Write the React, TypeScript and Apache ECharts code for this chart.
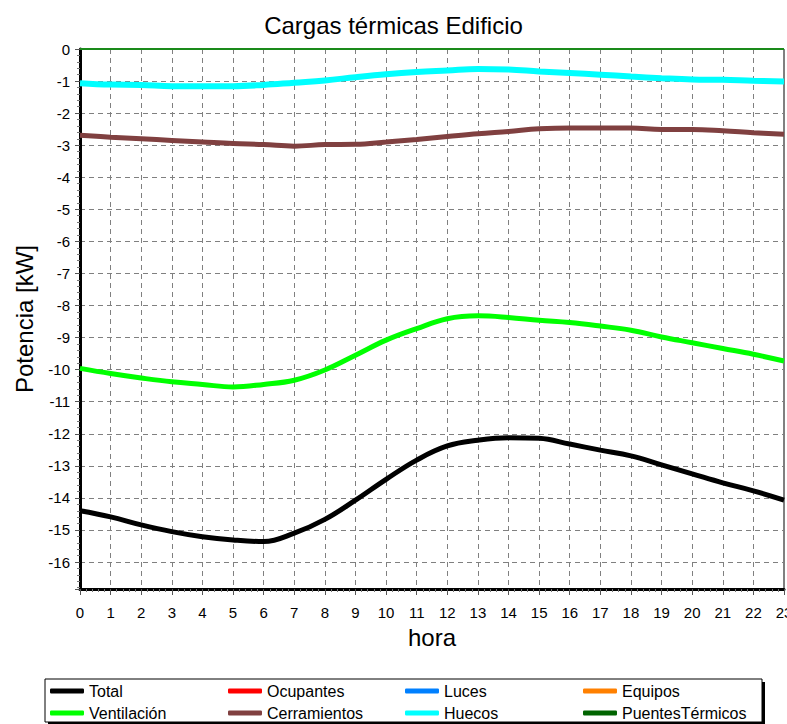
import React, { useEffect, useRef } from "react";
import * as echarts from "echarts";

const hours = [0, 1, 2, 3, 4, 5, 6, 7, 8, 9, 10, 11, 12, 13, 14, 15, 16, 17, 18, 19, 20, 21, 22, 23];

const total = [-14.40, -14.59, -14.84, -15.05, -15.21, -15.31, -15.36, -15.10, -14.67, -14.07, -13.42, -12.82, -12.38, -12.20, -12.12, -12.14, -12.32, -12.51, -12.69, -12.97, -13.25, -13.53, -13.78, -14.07];
const ocupantes = [0, 0, 0, 0, 0, 0, 0, 0, 0, 0, 0, 0, 0, 0, 0, 0, 0, 0, 0, 0, 0, 0, 0, 0];
const luces = [0, 0, 0, 0, 0, 0, 0, 0, 0, 0, 0, 0, 0, 0, 0, 0, 0, 0, 0, 0, 0, 0, 0, 0];
const equipos = [0, 0, 0, 0, 0, 0, 0, 0, 0, 0, 0, 0, 0, 0, 0, 0, 0, 0, 0, 0, 0, 0, 0, 0];
const ventilacion = [-9.96, -10.12, -10.26, -10.38, -10.46, -10.54, -10.46, -10.33, -10.01, -9.55, -9.08, -8.72, -8.41, -8.32, -8.37, -8.46, -8.53, -8.64, -8.77, -8.98, -9.16, -9.34, -9.52, -9.73];
const cerramientos = [-2.69, -2.75, -2.80, -2.85, -2.90, -2.95, -2.98, -3.03, -2.98, -2.97, -2.90, -2.82, -2.73, -2.64, -2.57, -2.49, -2.46, -2.46, -2.46, -2.51, -2.51, -2.55, -2.61, -2.66];
const huecos = [-1.065, -1.11, -1.12, -1.16, -1.16, -1.16, -1.12, -1.05, -0.98, -0.88, -0.79, -0.72, -0.67, -0.62, -0.64, -0.70, -0.75, -0.80, -0.86, -0.91, -0.95, -0.96, -0.99, -1.01];
const puentes = [0, 0, 0, 0, 0, 0, 0, 0, 0, 0, 0, 0, 0, 0, 0, 0, 0, 0, 0, 0, 0, 0, 0, 0];

const seriesDefs = [
  { name: "Total", data: total, color: "#000000", width: 5 },
  { name: "Ocupantes", data: ocupantes, color: "#ff0000", width: 2 },
  { name: "Luces", data: luces, color: "#0080ff", width: 2 },
  { name: "Equipos", data: equipos, color: "#ff8000", width: 2 },
  { name: "Ventilación", data: ventilacion, color: "#00ff00", width: 5 },
  { name: "Cerramientos", data: cerramientos, color: "#804040", width: 5 },
  { name: "Huecos", data: huecos, color: "#00ffff", width: 6 },
  { name: "PuentesTérmicos", data: puentes, color: "#1a8a1a", width: 2 },
];

const legendCols = [50, 228, 405, 583];
const legendRows = [683, 705];

const FONT = "Liberation Sans, Arial, sans-serif";

export default function App() {
  const ref = useRef<HTMLDivElement>(null);
  useEffect(() => {
    if (!ref.current) return;
    const chart = echarts.init(ref.current, null, { renderer: "svg" });
    const legends = seriesDefs.map((s, i) => ({
      data: [s.name],
      left: legendCols[i % 4],
      top: legendRows[Math.floor(i / 4)],
      padding: 0,
      icon: "roundRect",
      itemWidth: 34,
      itemHeight: 5,
      selectedMode: false,
      itemStyle: { color: s.name === "PuentesTérmicos" ? "#006400" : s.color },
      textStyle: { fontFamily: FONT, fontSize: 16, color: "#000" },
    }));
    chart.setOption({
      animation: false,
      backgroundColor: "#ffffff",
      title: {
        text: "Cargas térmicas Edificio",
        left: "center",
        top: 8,
        textStyle: { fontFamily: FONT, fontSize: 24, fontWeight: "normal", color: "#000" },
      },
      grid: {
        left: 80,
        right: 3,
        top: 49,
        bottom: 135,
        show: true,
        borderColor: "#000",
        borderWidth: 1,
        backgroundColor: "#ffffff",
        containLabel: false,
        outerBoundsMode: "none",
      },
      legend: legends,
      graphic: [
        { type: "rect", shape: { x: 48, y: 682, width: 717, height: 43 }, style: { fill: "#000" }, z: -10 },
        { type: "rect", shape: { x: 45, y: 679, width: 717, height: 43 }, style: { fill: "#fff", stroke: "#000", lineWidth: 1 }, z: -9 },
      ],
      xAxis: {
        type: "value",
        min: 0,
        max: 23,
        interval: 1,
        name: "hora",
        nameLocation: "middle",
        nameGap: 36,
        nameTextStyle: { fontFamily: FONT, fontSize: 24, color: "#000" },
        axisLine: { show: true, onZero: false, lineStyle: { color: "#000", width: 3 } },
        axisTick: { show: true, length: 6, lineStyle: { color: "#555" } },
        minorTick: { show: true, splitNumber: 5, length: 3, lineStyle: { color: "#777" } },
        axisLabel: { fontFamily: FONT, fontSize: 15, color: "#000", margin: 16, hideOverlap: false },
        splitLine: { show: true, lineStyle: { color: "#808080", type: [5, 4], width: 1 } },
      },
      yAxis: {
        type: "value",
        min: -16.84,
        max: 0,
        minInterval: 1,
        maxInterval: 1,
        splitNumber: 17,
        name: "Potencia [kW]",
        nameLocation: "middle",
        nameGap: 44,
        nameTextStyle: { fontFamily: FONT, fontSize: 24, color: "#000" },
        axisLine: { show: true, onZero: false, lineStyle: { color: "#000", width: 3 } },
        axisTick: { show: true, length: 5, lineStyle: { color: "#555" } },
        minorTick: { show: true, splitNumber: 5, length: 3, lineStyle: { color: "#777" } },
        axisLabel: { fontFamily: FONT, fontSize: 15, color: "#000", margin: 10, showMinLabel: false },
        splitLine: { show: true, lineStyle: { color: "#808080", type: [5, 4], width: 1 } },
      },
      series: seriesDefs.map((s) => ({
        name: s.name,
        type: "line",
        data: hours.map((h, i) => [h, s.data[i]]),
        smooth: 0.4,
        showSymbol: false,
        symbol: "none",
        clip: true,
        color: s.color,
        lineStyle: { color: s.color, width: s.width },
        itemStyle: { color: s.color },
      })),
    });
    return () => chart.dispose();
  }, []);
  return <div ref={ref} style={{ position: "absolute", left: 0, top: 0, width: 787, height: 724 }} />;
}
